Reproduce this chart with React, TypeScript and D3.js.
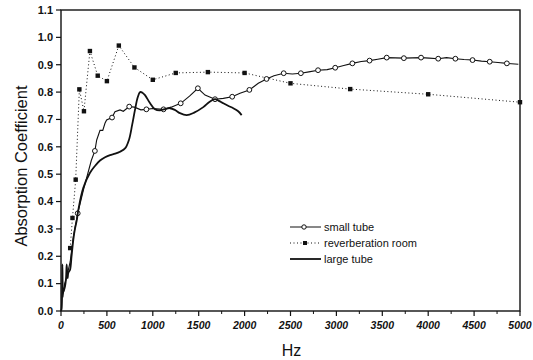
import React from "react";
import * as d3 from "d3";

// ---- data ----
const xTicks = [0, 500, 1000, 1500, 2000, 2500, 3000, 3500, 4000, 4500, 5000];
const yTicks = [0.0, 0.1, 0.2, 0.3, 0.4, 0.5, 0.6, 0.7, 0.8, 0.9, 1.0, 1.1];

const reverbHz = [100, 125, 160, 200, 250, 315, 400, 500, 630, 800, 1000, 1250, 1600, 2000, 2500, 3150, 4000, 5000];
const reverbVal = [0.23, 0.34, 0.48, 0.81, 0.73, 0.95, 0.86, 0.84, 0.97, 0.89, 0.845, 0.87, 0.873, 0.87, 0.832, 0.811, 0.792, 0.763];

const smallTubeCurve: [number, number][] = [
  [20, 0.05], [40, 0.1], [60, 0.12], [80, 0.15], [100, 0.18], [134, 0.27], [182, 0.357], [250, 0.45], [330, 0.55],
  [369, 0.585], [389, 0.625], [425, 0.66], [455, 0.66], [479, 0.686], [497, 0.698], [556, 0.707], [588, 0.728],
  [643, 0.735], [679, 0.73], [743, 0.747], [800, 0.745], [870, 0.735], [930, 0.737], [1000, 0.74], [1117, 0.737],
  [1200, 0.745], [1304, 0.759], [1400, 0.785], [1491, 0.814], [1569, 0.789], [1678, 0.774], [1768, 0.777],
  [1865, 0.783], [1950, 0.796], [2052, 0.808], [2149, 0.832], [2239, 0.848], [2320, 0.86], [2426, 0.869],
  [2520, 0.866], [2613, 0.869], [2700, 0.874], [2800, 0.88], [2900, 0.882], [2987, 0.889], [3080, 0.897],
  [3174, 0.905], [3270, 0.912], [3361, 0.915], [3450, 0.92], [3548, 0.926], [3640, 0.925], [3735, 0.924],
  [3830, 0.925], [3922, 0.926], [4010, 0.924], [4109, 0.922], [4200, 0.926], [4296, 0.922], [4390, 0.919],
  [4483, 0.917], [4580, 0.913], [4670, 0.911], [4760, 0.908], [4857, 0.905], [4982, 0.902],
];
const smallTubeMarkerHz = [182, 369, 556, 743, 930, 1117, 1304, 1491, 1678, 1865, 2052, 2239, 2426, 2613, 2800, 2987, 3174, 3361, 3548, 3735, 3922, 4109, 4296, 4483, 4670, 4857];
const smallTubeMarkerVal = [0.357, 0.585, 0.707, 0.747, 0.737, 0.737, 0.759, 0.814, 0.774, 0.783, 0.808, 0.848, 0.869, 0.869, 0.88, 0.889, 0.905, 0.915, 0.926, 0.924, 0.926, 0.922, 0.922, 0.917, 0.911, 0.905];

const largeTubeCurve: [number, number][] = [
  [0, 0.0], [7, 0.01], [15, 0.17], [20, 0.08], [25, 0.07], [44, 0.09], [55, 0.12], [62, 0.17], [72, 0.12],
  [80, 0.14], [98, 0.15], [115, 0.2], [134, 0.26], [152, 0.3], [171, 0.33], [189, 0.37], [243, 0.45],
  [316, 0.505], [370, 0.53], [425, 0.55], [480, 0.562], [534, 0.57], [590, 0.575], [643, 0.582], [700, 0.595],
  [740, 0.625], [775, 0.68], [806, 0.735], [835, 0.78], [861, 0.8], [890, 0.797], [915, 0.789], [969, 0.76],
  [1024, 0.737], [1078, 0.733], [1130, 0.738], [1187, 0.741], [1240, 0.735], [1296, 0.723], [1369, 0.716],
  [1450, 0.725], [1550, 0.745], [1620, 0.765], [1678, 0.774], [1720, 0.768], [1768, 0.759], [1820, 0.75],
  [1877, 0.741], [1930, 0.73], [1968, 0.716],
];

const legendLabels = ["small tube", "reverberation room", "large tube"];

export default function App() {
  const W = 533, H = 360;
  const x = d3.scaleLinear().domain([0, 5000]).range([61, 520]);
  const y = d3.scaleLinear().domain([0, 1.1]).range([311, 10]);
  const line = d3.line<[number, number]>().x(d => x(d[0])).y(d => y(d[1]));
  const reverbPts: [number, number][] = reverbHz.map((h, i) => [h, reverbVal[i]]);
  const ink = "#111";
  const font = "'Liberation Sans', Arial, Helvetica, sans-serif";
  const minorX = d3.range(250, 5000, 500);
  const [x0, x1] = x.range();
  const [y0, y1] = y.range();
  const legX = 290, legY = [227, 243, 259];

  return (
    <svg width={W} height={H} style={{ position: "absolute", left: 0, top: 0, background: "#fff" }} fontFamily={font}>
      <rect x={0} y={0} width={W} height={H} fill="#fff" />
      {/* frame */}
      <rect x={x0} y={y1} width={x1 - x0} height={y0 - y1} fill="none" stroke={ink} strokeWidth={1.4} />
      {/* y ticks */}
      {yTicks.map(t => (
        <g key={"y" + t}>
          <line x1={x0 - 5} x2={x0} y1={y(t)} y2={y(t)} stroke={ink} strokeWidth={1.2} />
          <text x={x0 - 8} y={y(t)} dy="0.35em" textAnchor="end" fontSize={11} fill={ink} fontWeight={600}>
            {t.toFixed(1)}
          </text>
        </g>
      ))}
      {/* x ticks */}
      {xTicks.map(t => (
        <g key={"x" + t}>
          <line x1={x(t)} x2={x(t)} y1={y0} y2={y0 + 5} stroke={ink} strokeWidth={1.2} />
          <text x={x(t)} y={y0 + 18} textAnchor="middle" fontSize={10.5} fontStyle="italic" fontWeight={600} fill={ink}>
            {t}
          </text>
        </g>
      ))}
      {minorX.map(t => (
        <line key={"m" + t} x1={x(t)} x2={x(t)} y1={y0} y2={y0 + 3} stroke={ink} strokeWidth={1} />
      ))}
      {/* axis titles */}
      <text transform={`translate(27,166) rotate(-90)`} textAnchor="middle" fontSize={16.5} fill={ink}>
        Absorption Coefficient
      </text>
      <text x={x(2500) + 1} y={356} textAnchor="middle" fontSize={16} fill={ink}>Hz</text>

      {/* reverberation room */}
      <path d={line(reverbPts) || ""} fill="none" stroke={ink} strokeWidth={1} strokeDasharray="1 2.5" />
      {reverbPts.map((p, i) => (
        <rect key={"r" + i} x={x(p[0]) - 2.2} y={y(p[1]) - 2.2} width={4.4} height={4.4} fill={ink} />
      ))}
      {/* small tube */}
      <path d={line(smallTubeCurve) || ""} fill="none" stroke={ink} strokeWidth={1.1} />
      {smallTubeMarkerHz.map((h, i) => (
        <circle key={"s" + i} cx={x(h)} cy={y(smallTubeMarkerVal[i])} r={2.4} fill="#fff" stroke={ink} strokeWidth={1} />
      ))}
      {/* large tube */}
      <path d={d3.line<[number, number]>().x(d => x(d[0])).y(d => y(d[1])).curve(d3.curveCatmullRom)(largeTubeCurve) || ""}
        fill="none" stroke={ink} strokeWidth={1.8} />

      {/* legend */}
      <line x1={legX} x2={legX + 31} y1={legY[0]} y2={legY[0]} stroke={ink} strokeWidth={1} />
      <circle cx={legX + 14} cy={legY[0]} r={2.2} fill="#fff" stroke={ink} strokeWidth={1} />
      <line x1={legX} x2={legX + 31} y1={legY[1]} y2={legY[1]} stroke={ink} strokeWidth={1} strokeDasharray="1 2.5" />
      <rect x={legX + 13} y={legY[1] - 2} width={4} height={4} fill={ink} />
      <line x1={legX} x2={legX + 31} y1={legY[2]} y2={legY[2]} stroke={ink} strokeWidth={1.8} />
      {legendLabels.map((l, i) => (
        <text key={l} x={legX + 34} y={legY[i]} dy="0.35em" fontSize={11} fill={ink}>{l}</text>
      ))}
    </svg>
  );
}
